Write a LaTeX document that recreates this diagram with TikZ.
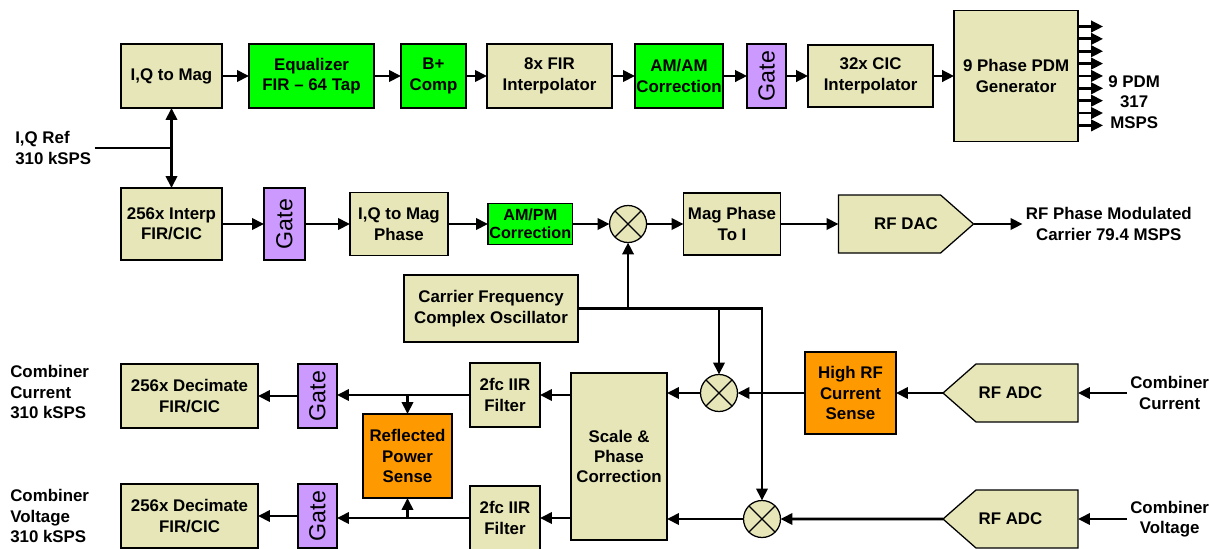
\documentclass[tikz,border=0pt]{standalone}
\usepackage{fontspec}
\setmainfont{Liberation Sans}
\usepackage{graphicx}
\usepackage{tikz}
\usetikzlibrary{arrows.meta, positioning, backgrounds}

\definecolor{blocktan}{RGB}{230,230,184}
\definecolor{blockgreen}{RGB}{0,255,0}
\definecolor{gatepurple}{RGB}{204,153,255}
\definecolor{senseorange}{RGB}{255,153,0}

\begin{document}
\begin{tikzpicture}[
  every node/.style={font=\fontsize{12}{14.5}\selectfont\bfseries},
  box/.style={rectangle, draw, line width=0.9pt, fill=blocktan, align=center, inner sep=1pt, outer sep=0pt},
  fastbox/.style={box, fill=blockgreen},
  sensebox/.style={box, fill=senseorange},
  gatebox/.style={box, fill=gatepurple, minimum width=0.975cm, minimum height=1.6cm, font=\fontsize{16.5}{18}\selectfont},
  convbox/.style={rectangle, align=center, inner sep=1pt, outer sep=0pt, minimum width=3.375cm, minimum height=1.45cm},
  mixer/.style={circle, draw, line width=0.9pt, fill=blocktan, minimum size=0.925cm, inner sep=0pt, outer sep=0pt,
    path picture={\draw[line width=0.9pt] (path picture bounding box.north west) -- (path picture bounding box.south east)
      (path picture bounding box.north east) -- (path picture bounding box.south west);}},
  lbl/.style={inner sep=0.075cm, align=center},
  link/.style={-{Triangle[length=8.5pt, width=8pt]}, line width=2pt},
  wire/.style={line width=2pt}
]
\useasboundingbox (0,0) rectangle (30.25,-13.7);

% Magnitude path (top row)
\node[box, minimum width=2.525cm, minimum height=1.6cm] (iqmag) at (4.2875,-1.9) {I,Q to Mag};
\node[fastbox, minimum width=3.125cm, minimum height=1.6cm, right=0.675cm of iqmag] (eq) {Equalizer\\FIR -- 64 Tap};
\node[fastbox, minimum width=1.625cm, minimum height=1.6cm, right=0.675cm of eq] (bcomp) {B+\\Comp};
\node[box, minimum width=3.125cm, minimum height=1.6cm, right=0.525cm of bcomp] (fir8) {8x FIR\\Interpolator};
\node[fastbox, minimum width=2.2cm, minimum height=1.6cm, right=0.575cm of fir8] (amam) {AM/AM\\Correction};
\node[gatebox, right=0.6cm of amam] (gate1) {\rotatebox{90}{Gate}};
\node[box, minimum width=3.125cm, minimum height=1.55cm, right=0.55cm of gate1] (cic) {32x CIC\\Interpolator};
\node[box, minimum width=3.1cm, minimum height=3.275cm, right=0.525cm of cic] (pdm) {9 Phase PDM\\Generator};
\node[lbl, right=0.675cm of pdm, yshift=-0.65cm] (pdmlbl) {9 PDM\\317\\MSPS};

% Phase path (middle row)
\node[lbl, anchor=west, align=left] (iqref) at (0.3,-3.7) {I,Q Ref\\310 kSPS};
\node[box, minimum width=2.525cm, minimum height=1.8cm, below=2.0cm of iqmag] (interp) {256x Interp\\FIR/CIC};
\node[gatebox, minimum width=1.025cm, minimum height=1.8cm, right=1.05cm of interp] (gate2) {\rotatebox{90}{Gate}};
\node[box, minimum width=2.45cm, minimum height=1.575cm, right=1.125cm of gate2] (iqmp) {I,Q to Mag\\Phase};
\node[fastbox, minimum width=2.1cm, minimum height=1.025cm, right=1.0cm of iqmp, font=\fontsize{11.5}{13}\selectfont\bfseries] (ampm) {AM/PM\\Correction};
\node[mixer, right=0.925cm of ampm] (mix1) {};
\node[box, minimum width=2.425cm, minimum height=1.55cm, right=0.925cm of mix1] (magi) {Mag Phase\\To I};
\node[convbox, right=1.45cm of magi] (dac) {RF DAC};
\node[lbl, right=1.225cm of dac] (rfout) {RF Phase Modulated\\Carrier 79.4 MSPS};
\node[box, minimum width=4.35cm, minimum height=1.675cm] (osc) at (12.275,-7.7125) {Carrier Frequency\\Complex Oscillator};

% Feedback path (bottom rows)
\node[sensebox, minimum width=2.275cm, minimum height=2.05cm] (hrf) at (21.2625,-9.825) {High RF\\Current\\Sense};
\node[convbox, right=1.175cm of hrf] (adc1) {RF ADC};
\node[convbox, below=1.7cm of adc1] (adc2) {RF ADC};
\node[lbl, right=1.225cm of adc1] (curin) {Combiner\\Current};
\node[lbl, right=1.225cm of adc2] (volin) {Combiner\\Voltage};
\node[mixer] (mixa) at (17.975,-9.825) {};
\node[mixer] (mixb) at (19.05,-12.975) {};
\node[box, minimum width=2.4cm, minimum height=4.175cm] (scale) at (15.475,-11.4125) {Scale \&\\Phase\\Correction};
\node[box, minimum width=1.75cm, minimum height=1.6cm] (iir1) at (12.625,-9.875) {2fc IIR\\Filter};
\node[box, minimum width=1.75cm, minimum height=1.6cm, below=1.475cm of iir1] (iir2) {2fc IIR\\Filter};
\node[sensebox, minimum width=2.225cm, minimum height=2.1cm] (refl) at (10.1875,-11.4) {Reflected\\Power\\Sense};
\node[box, minimum width=3.425cm, minimum height=1.6cm] (dec1) at (4.7375,-9.9) {256x Decimate\\FIR/CIC};
\node[box, minimum width=3.425cm, minimum height=1.6cm, below=1.4cm of dec1] (dec2) {256x Decimate\\FIR/CIC};
\node[gatebox, right=1.0cm of dec1] (gate3) {\rotatebox{90}{Gate}};
\node[gatebox, right=1.0cm of dec2] (gate4) {\rotatebox{90}{Gate}};
\node[lbl, anchor=west, align=left] (curout) at (0.175,-9.8) {Combiner\\Current\\310 kSPS};
\node[lbl, anchor=west, align=left] (volout) at (0.175,-12.9) {Combiner\\Voltage\\310 kSPS};

% DAC / ADC outlines
\begin{scope}[on background layer]
  \draw[line width=0.9pt, fill=blocktan] (dac.north west) -- ([xshift=-0.825cm]dac.north east) -- (dac.east)
    -- ([xshift=-0.825cm]dac.south east) -- (dac.south west) -- cycle;
  \foreach \n in {adc1, adc2}
    \draw[line width=0.9pt, fill=blocktan] (\n.north east) -- ([xshift=0.825cm]\n.north west) -- (\n.west)
      -- ([xshift=0.825cm]\n.south west) -- (\n.south east) -- cycle;
\end{scope}

% Arrows
\foreach \a/\b in {iqmag/eq, eq/bcomp, bcomp/fir8, fir8/amam, amam/gate1, gate1/cic, cic/pdm}
  \draw[link] (\a) -- (\b);
\foreach \i in {0,...,8} {
  \coordinate (pdmout\i) at ([xshift=0.625cm, yshift={1.2375cm-\i*0.309cm}]pdm.east);
  \draw[link] (pdm.east |- pdmout\i) -- (pdmout\i);
}
\draw[{Triangle[length=8.5pt, width=8pt]}-{Triangle[length=8.5pt, width=8pt]}, line width=2pt] (iqmag) -- (interp);
\draw[wire] (iqref) -- (iqmag.south |- iqref);
\foreach \a/\b in {interp/gate2, gate2/iqmp, iqmp/ampm, ampm/mix1, mix1/magi, magi/dac, dac/rfout}
  \draw[link] (\a) -- (\b);
\draw[link] (osc.east) -| (mix1);
\draw[link] (osc.east) -| (mixb);
\draw[link] (osc.east -| mixa) -- (mixa);
\draw[link] (curin) -- (adc1);
\draw[link] (volin) -- (adc2);
\draw[link] (adc1) -- (hrf);
\draw[link] (hrf) -- (mixa);
\draw[link] (adc2) -- (mixb);
\draw[link] (mixa) -- (mixa -| scale.east);
\draw[link] (mixb) -- (mixb -| scale.east);
\draw[link] (scale.west |- iir1) -- (iir1);
\draw[link] (scale.west |- iir2) -- (iir2);
\draw[link] (iir1.west) -- (iir1.west -| gate3.east);
\draw[link] (iir2.west) -- (iir2.west -| gate4.east);
\draw[link] (refl.north |- iir1) -- (refl);
\draw[link] (refl.south |- iir2) -- (refl);
\draw[link] (gate3) -- (dec1);
\draw[link] (gate4) -- (dec2);
\end{tikzpicture}
\end{document}
